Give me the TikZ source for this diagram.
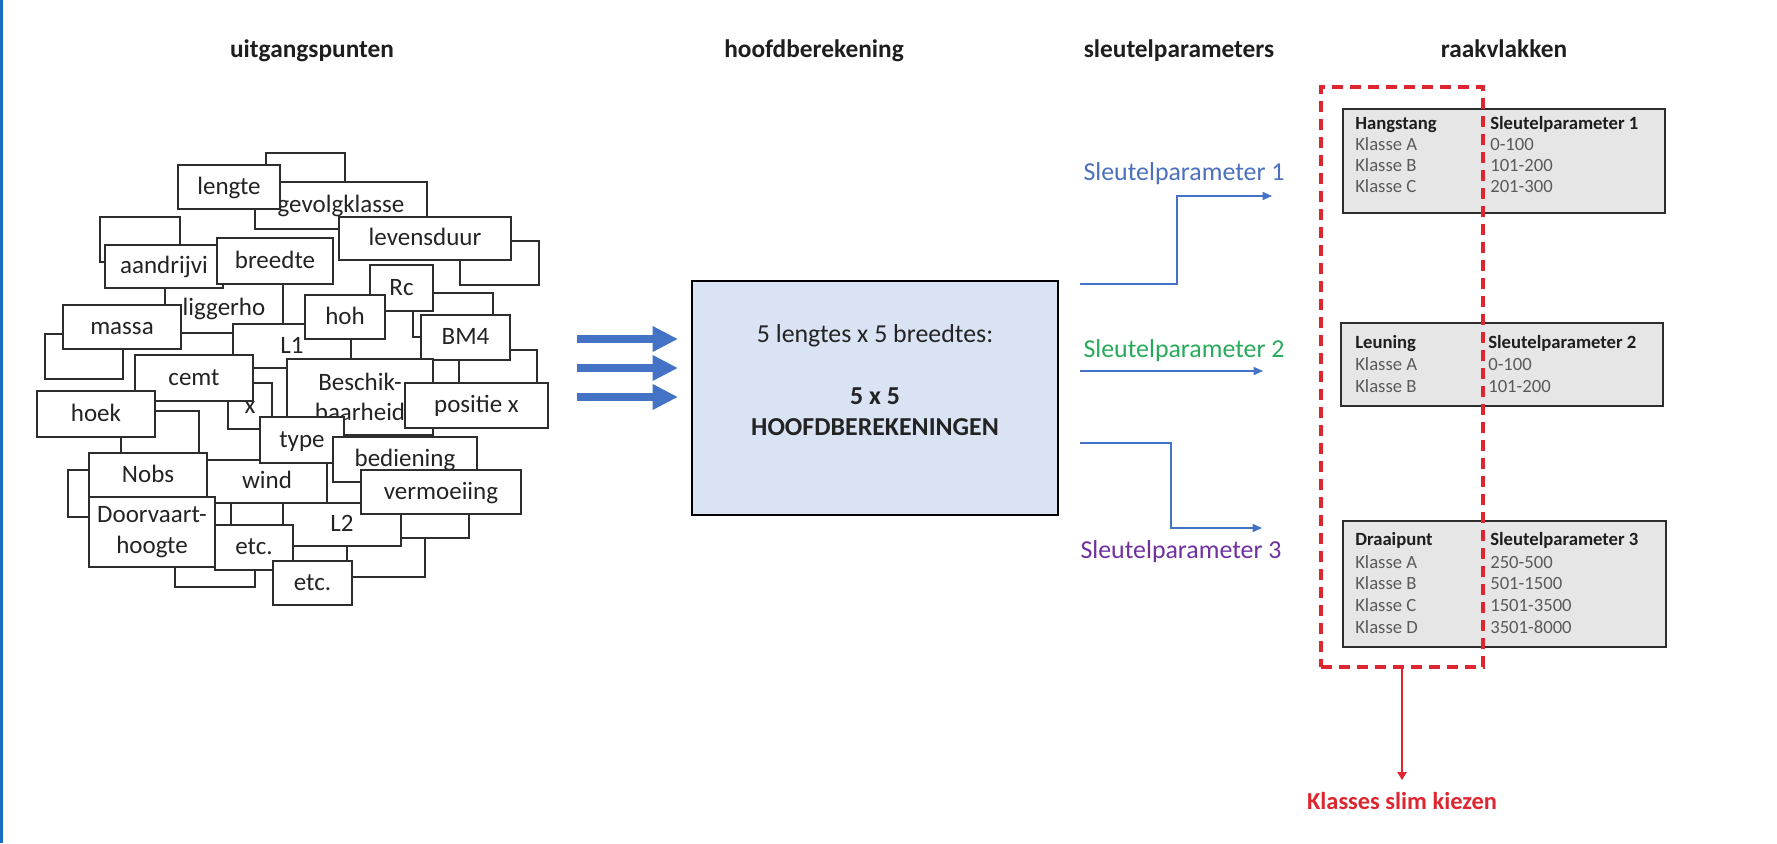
\documentclass[tikz,border=0pt]{standalone}
\usepackage{fontspec}
\setmainfont{Carlito}
\usetikzlibrary{arrows.meta}
\definecolor{boxline}{RGB}{45,45,45}
\definecolor{pilet}{RGB}{35,35,35}
\definecolor{titlec}{RGB}{30,30,30}
\definecolor{midfill}{RGB}{218,227,243}
\definecolor{arrowblue}{RGB}{68,114,196}
\definecolor{spblue}{RGB}{75,112,190}
\definecolor{spgreen}{RGB}{40,170,90}
\definecolor{sppurple}{RGB}{112,48,160}
\definecolor{tblfill}{RGB}{231,230,230}
\definecolor{tblhead}{RGB}{30,30,30}
\definecolor{tblrow}{RGB}{90,90,90}
\definecolor{selred}{RGB}{222,38,48}
\definecolor{frameblue}{RGB}{25,110,195}
\newcommand{\pilefont}{\fontsize{18.75}{22.9}\selectfont}
\newcommand{\titlefont}{\fontsize{19}{23}\selectfont\bfseries}
\newcommand{\midfont}{\fontsize{19.4}{23.5}\selectfont}
\newcommand{\tblfont}{\fontsize{14}{17}\selectfont}
\newcommand{\redfont}{\fontsize{18.3}{22}\selectfont}
\newcommand{\pbox}[6]{\node[pb, minimum width={(#4-#2)*0.75pt}, minimum height={(#5-#3)*0.75pt}] (#1) at ({(#2+#4)/2},{(#3+#5)/2}) {#6};}
\newcommand{\pboxm}[6]{\node[pbm, minimum width={(#4-#2)*0.75pt}, minimum height={(#5-#3)*0.75pt}] (#1) at ({(#2+#4)/2},{(#3+#5)/2}) {#6};}
\begin{document}
\begin{tikzpicture}[x=0.75pt, y=-0.75pt,
  pb/.style={draw=boxline, fill=white, line width=1.4pt, inner sep=0pt, text=pilet, font=\pilefont, text height=13.1pt, text depth=1.9pt},
  pbm/.style={draw=boxline, fill=white, line width=1.4pt, inner sep=0pt, text=pilet, font=\pilefont, align=center},
  title/.style={font=\titlefont, text=titlec, inner sep=0pt, text height=13.3pt, text depth=1.9pt},
  midbox/.style={draw=black, fill=midfill, line width=2.2pt, inner sep=0pt},
  midtxt/.style={font=\midfont, text=pilet, inner sep=0pt, text height=13.6pt, text depth=1.9pt},
  midbold/.style={midtxt, font=\midfont\bfseries},
  bigarrow/.style={draw=arrowblue, line width=6pt, -{Triangle[length=19pt,width=18pt]}},
  spline/.style={draw=arrowblue, line width=1.1pt, -{Triangle[length=7pt,width=6pt]}},
  splabel/.style={font=\midfont, inner sep=0pt, text height=13.6pt, text depth=1.9pt},
  tbl/.style={draw=boxline, fill=tblfill, line width=1.8pt, inner sep=0pt},
  th/.style={font=\tblfont\bfseries, text=tblhead, anchor=west, inner sep=0pt, text height=9.8pt, text depth=1.4pt},
  trow/.style={font=\tblfont, text=tblrow, anchor=west, inner sep=0pt, text height=9.8pt, text depth=1.4pt},
  sel/.style={draw=selred, line width=2.8pt, dash pattern=on 8pt off 5.5pt, inner sep=0pt},
  redlab/.style={font=\redfont\bfseries, text=selred, inner sep=0pt, text height=12.8pt, text depth=1.8pt},
  redarrow/.style={draw=selred, line width=1.1pt, -{Triangle[length=6pt,width=7pt]}}
]
\useasboundingbox (0,0) rectangle (1777,843);
\fill[white] (0,0) rectangle (1777,843);
\fill[frameblue] (0,0) rectangle (3,843);

% titles
\node[title] (t1) at (312,50) {uitgangspunten};
\node[title] (t2) at (814,50) {hoofdberekening};
\node[title] (t3) at (1179,50) {sleutelparameters};
\node[title] (t4) at (1504,50) {raakvlakken};

% pile: back boxes
\pbox{bkA}{266}{153}{345}{200}{}
\pbox{bkB}{100}{217}{180}{262}{}
\pbox{bkC}{460}{241}{539}{285}{}
\pbox{bkD}{413}{293}{493}{337}{}
\pbox{bkE}{45}{334}{123}{379}{}
\pbox{bkF}{459}{350}{537}{395}{}
\pbox{bkG}{121}{411}{199}{455}{}
\pbox{bkH}{68}{470}{120}{517}{}
\pbox{bkI}{175}{540}{255}{587}{}
\pbox{bkJ}{347}{535}{425}{577}{}
\pbox{bkK}{390}{500}{469}{538}{}
\pbox{bkL}{231}{495}{290}{540}{}
% pile: labelled boxes
\pbox{gevolg}{255}{182}{427}{229}{gevolgklasse}
\pbox{lengte}{178}{165}{280}{209}{lengte}
\pbox{levens}{339}{217}{511}{260}{levensduur}
\pbox{ligger}{165}{283}{283}{333}{liggerho}
\pbox{aandr}{105}{245}{223}{288}{aandrijvi}
\pbox{breedte}{217}{238}{333}{284}{breedte}
\pbox{massa}{63}{305}{181}{349}{massa}
\pbox{rc}{370}{265}{433}{311}{Rc}
\pbox{lone}{233}{324}{351}{368}{L1}
\pbox{hoh}{305}{295}{385}{339}{hoh}
\pbox{bmfour}{421}{315}{510}{360}{BM4}
\pbox{xb}{228}{383}{272}{429}{x}
\pbox{cemt}{135}{355}{253}{401}{cemt}
\pbox{hoek}{37}{391}{155}{437}{hoek}
\pboxm{besch}{287}{359}{433}{435}{Beschik-\\baarheid}
\pbox{posx}{405}{383}{548}{428}{positie x}
\pbox{wind}{207}{460}{327}{503}{wind}
\pbox{type}{260}{417}{344}{463}{type}
\pbox{bedien}{333}{437}{477}{482}{bediening}
\pbox{ltwo}{283}{503}{401}{546}{L2}
\pbox{verm}{361}{470}{521}{514}{vermoeiing}
\pbox{nobs}{89}{453}{207}{497}{Nobs}
\pboxm{door}{89}{497}{215}{567}{Doorvaart-\\hoogte}
\pbox{etcone}{215}{525}{293}{570}{etc.}
\pbox{etctwo}{273}{561}{352}{605}{etc.}

% block arrows
\coordinate (a1s) at (577,339); \coordinate (a1e) at (678,339);
\coordinate (a2s) at (577,368); \coordinate (a2e) at (678,368);
\coordinate (a3s) at (577,397); \coordinate (a3e) at (678,397);
\draw[bigarrow] (a1s) -- (a1e);
\draw[bigarrow] (a2s) -- (a2e);
\draw[bigarrow] (a3s) -- (a3e);

% main calculation box
\node[midbox, minimum width={366*0.75pt}, minimum height={234*0.75pt}] (mid) at (875,398) {};
\node[midtxt] (m1) at (875,335) {5 lengtes x 5 breedtes:};
\node[midbold] (m2) at (875,397) {5 x 5};
\node[midbold] (m3) at (875,428) {HOOFDBEREKENINGEN};

% key parameter connectors
\coordinate (p1s) at (1080,284); \coordinate (p1e) at (1272,196);
\coordinate (p2s) at (1080,371); \coordinate (p2e) at (1263,371);
\coordinate (p3s) at (1080,443); \coordinate (p3e) at (1262,528);
\draw[spline] (p1s) -- ++(97,0) |- (p1e);
\draw[spline] (p2s) -- (p2e);
\draw[spline] (p3s) -- ++(91,0) |- (p3e);
\node[splabel, text=spblue] (l1) at (1184,173) {Sleutelparameter 1};
\node[splabel, text=spgreen] (l2) at (1184,350) {Sleutelparameter 2};
\node[splabel, text=sppurple] (l3) at (1181,551) {Sleutelparameter 3};

% interface tables
\node[tbl, minimum width={322*0.75pt}, minimum height={104*0.75pt}] (tb1) at (1504,161) {};
\node[tbl, minimum width={322*0.75pt}, minimum height={83*0.75pt}] (tb2) at (1502,364.5) {};
\node[tbl, minimum width={323*0.75pt}, minimum height={126*0.75pt}] (tb3) at (1504.5,584) {};

% selection frame
\node[sel, minimum width={162*0.75pt}, minimum height={580*0.75pt}] (sel) at (1402,377) {};

\node[th] (h1a) at (1355,124) {Hangstang};
\node[th] (h1b) at (1490,124) {Sleutelparameter 1};
\node[trow] (r1a) at (1355,145) {Klasse A};
\node[trow] (r1b) at (1355,166) {Klasse B};
\node[trow] (r1c) at (1355,187) {Klasse C};
\node[trow] (v1a) at (1490,145) {0-100};
\node[trow] (v1b) at (1490,166) {101-200};
\node[trow] (v1c) at (1490,187) {201-300};

\node[th] (h2a) at (1355,343) {Leuning};
\node[th] (h2b) at (1488,343) {Sleutelparameter 2};
\node[trow] (r2a) at (1355,365) {Klasse A};
\node[trow] (r2b) at (1355,387) {Klasse B};
\node[trow] (v2a) at (1488,365) {0-100};
\node[trow] (v2b) at (1488,387) {101-200};

\node[th] (h3a) at (1355,540) {Draaipunt};
\node[th] (h3b) at (1490,540) {Sleutelparameter 3};
\node[trow] (r3a) at (1355,563) {Klasse A};
\node[trow] (r3b) at (1355,584) {Klasse B};
\node[trow] (r3c) at (1355,606) {Klasse C};
\node[trow] (r3d) at (1355,628) {Klasse D};
\node[trow] (v3a) at (1490,563) {250-500};
\node[trow] (v3b) at (1490,584) {501-1500};
\node[trow] (v3c) at (1490,606) {1501-3500};
\node[trow] (v3d) at (1490,628) {3501-8000};

% conclusion
\node[redlab] (kl) at (1402,802) {Klasses slim kiezen};
\draw[redarrow, shorten >=9pt] (sel.south) -- (kl.north);
\end{tikzpicture}
\end{document}
